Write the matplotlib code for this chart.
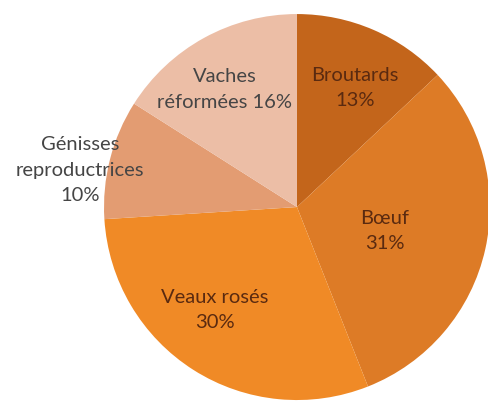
import numpy as np
import matplotlib.pyplot as plt

labels = ["Broutards", "Bœuf", "Veaux rosés", "Génisses\nreproductrices", "Vaches\nréformées"]
values = [13, 31, 30, 10, 16]
colors = ["#c3651b", "#dd7b26", "#f08a26", "#e39c72", "#ecbea6"]
text_colors = ["#5a2a10", "#5a2a10", "#5a2a10", "#454545", "#454545"]
label_dist = [0.69, 0.47, 0.68, 1.14, 0.72]
label_shift = [-2.5, -2.0, -6.5, 4.5, 2.5]

fig = plt.figure(figsize=(4.88, 4.02), dpi=100)
ax = fig.add_axes([0, 0, 1, 1])
wedges, _ = ax.pie(values, colors=colors, startangle=90, counterclock=False,
                   radius=1.0, wedgeprops=dict(linewidth=0))

for i, w in enumerate(wedges):
    ang = np.deg2rad((w.theta1 + w.theta2) / 2 + label_shift[i])
    r = label_dist[i]
    if i == 4:
        txt = "Vaches\nréformées %d%%" % values[i]
    else:
        txt = "%s\n%d%%" % (labels[i], values[i])
    ax.text(r * np.cos(ang), r * np.sin(ang), txt, ha="center", va="center",
            fontsize=14.5, color=text_colors[i], family="Lato", linespacing=1.6)

ax.set_xlim(-1.539, 0.990)
ax.set_ylim(-1.005, 1.078)
ax.set_aspect("auto")
ax.axis("off")
fig.savefig("out.png", dpi=100)
